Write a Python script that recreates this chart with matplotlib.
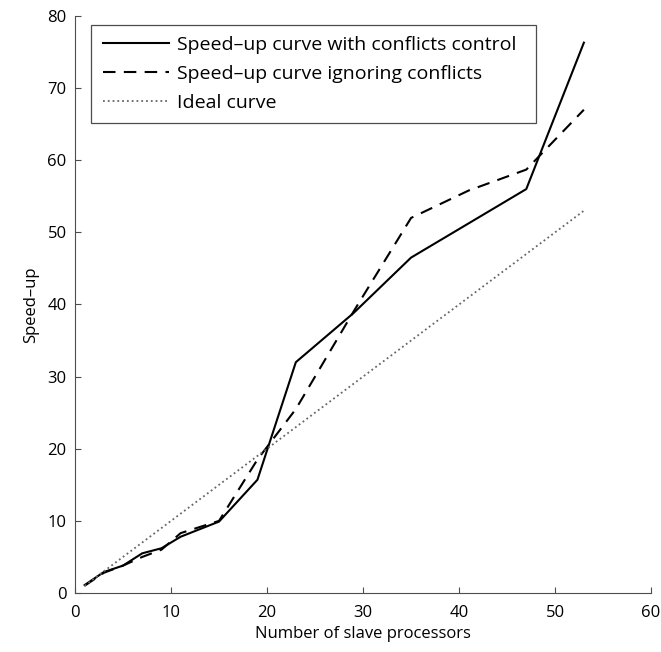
import numpy as np
import matplotlib.pyplot as plt

plt.rcParams['font.family'] = ['Open Sans', 'DejaVu Sans']

# number of slave processors and measured speed-up
procs_ctrl = [1, 3, 5, 7, 9, 11, 15, 19, 23, 29, 35, 47, 53]
speedup_ctrl = [1.1, 2.9, 3.8, 5.5, 6.2, 7.8, 9.9, 15.7, 32.0, 38.8, 46.5, 56.0, 76.3]

procs_ign = [1, 3, 5, 7, 9, 11, 15, 19, 23, 29, 35, 41, 47, 53]
speedup_ign = [1.0, 2.8, 3.8, 5.0, 6.0, 8.3, 10.0, 18.5, 25.5, 39.0, 52.0, 55.8, 58.7, 67.0]

procs_ideal = [1, 53]
speedup_ideal = [1, 53]

fig = plt.figure(figsize=(6.61, 6.52), dpi=100)
ax = fig.add_axes([0.1135, 0.0905, 0.8715, 0.885])

ax.plot(procs_ctrl, speedup_ctrl, '-', color='black', lw=1.5,
        label='Speed–up curve with conflicts control')
ax.plot(procs_ign, speedup_ign, '--', color='black', lw=1.5, dashes=(6, 4),
        label='Speed–up curve ignoring conflicts')
ax.plot(procs_ideal, speedup_ideal, ':', color='0.4', lw=1.3,
        label='Ideal curve')

ax.set_xlim(0, 60)
ax.set_ylim(0, 80)
ax.set_xticks(range(0, 61, 10))
ax.set_yticks(range(0, 81, 10))
ax.tick_params(direction='in', length=4, labelsize=12, color='0.3')
ax.tick_params(axis='x', pad=9)
ax.tick_params(axis='y', pad=6)
for s in ['top', 'right']:
    ax.spines[s].set_visible(False)
for s in ['left', 'bottom']:
    ax.spines[s].set_color('0.3')

ax.set_xlabel('Number of slave processors', fontsize=12, labelpad=3)
ax.set_ylabel('Speed–up', fontsize=12, labelpad=6)

# legend box stretched to a fixed width
leg = ax.legend(loc='upper left', bbox_to_anchor=(0.028, 0.985, 0.773, 0),
                mode='expand', fontsize=14,
                handlelength=3.4, handletextpad=0.4, fancybox=False,
                framealpha=1, edgecolor='0.3', borderpad=0.6,
                labelspacing=0.55, borderaxespad=0)
leg.get_frame().set_linewidth(0.9)

fig.savefig('out.png', dpi=100)
